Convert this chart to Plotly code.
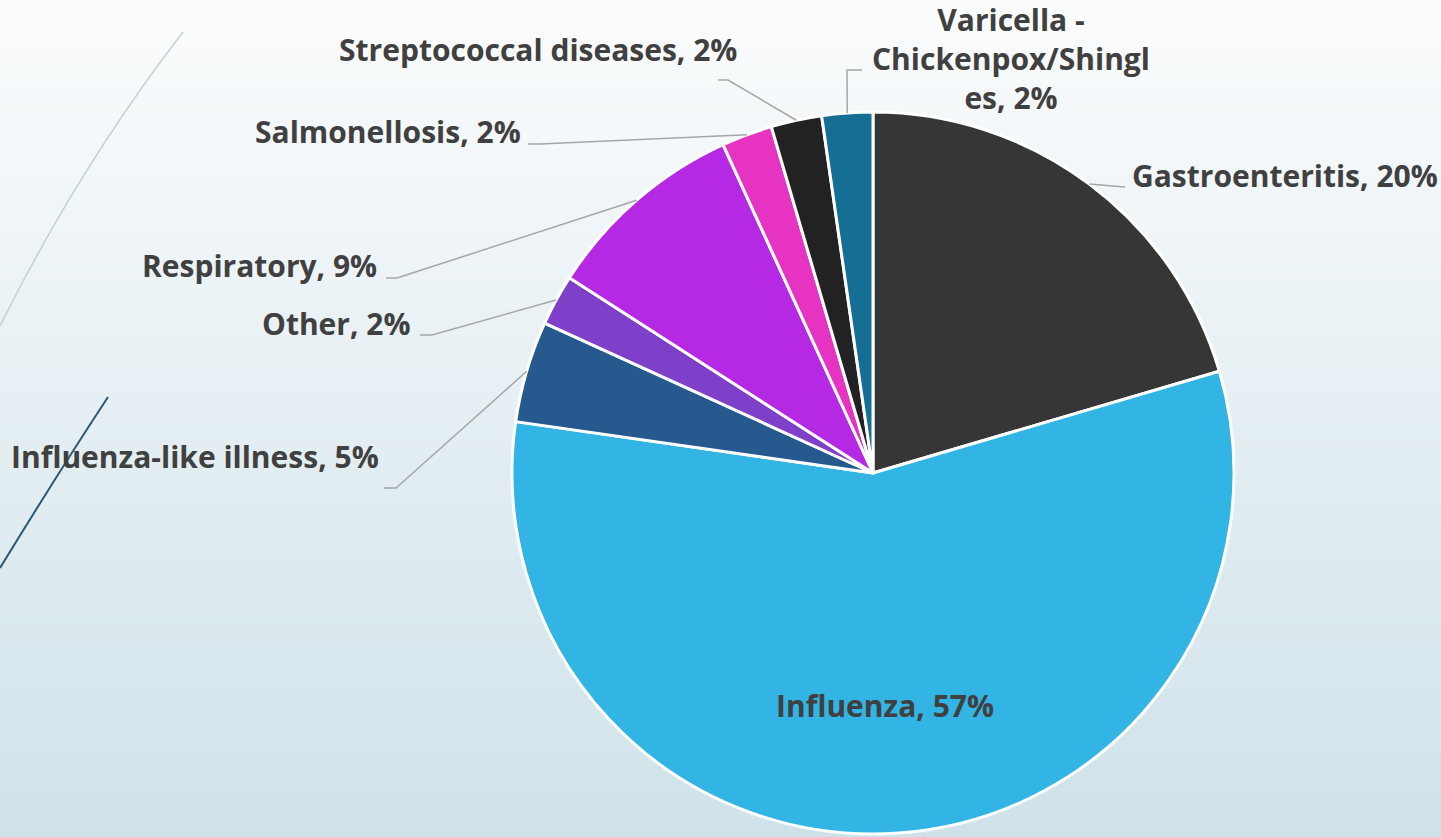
import math
import plotly.graph_objects as go

# ---------------- data ----------------
categories = [
    "Gastroenteritis",
    "Influenza",
    "Influenza-like illness",
    "Other",
    "Respiratory",
    "Salmonellosis",
    "Streptococcal diseases",
    "Varicella - Chickenpox/Shingles",
]
outbreaks = [18, 50, 4, 2, 8, 2, 2, 2]
colors = ["#363636", "#32B4E5", "#265A8E", "#7E3FC9",
          "#B629E4", "#E633C2", "#222222", "#156F94"]

# ---------------- layout helpers ----------------
W, H = 1441, 837
CX, CY, R = 873, 473, 361
FONT = dict(family="Open Sans, Lato, sans-serif", size=30, color="#404040", weight="bold")


def px(x):
    return x / W


def py(y):
    return 1 - y / H


# label anchor positions (pixels) and leader-line elbows/ends (pixels)
label_pos = {
    0: dict(x=1130, y=175, xanchor="left", leader=[(1125, 187)]),
    1: dict(x=885, y=705, xanchor="center", leader=None),
    2: dict(x=381, y=456, xanchor="right", leader=[(396, 488), (384, 488)]),
    3: dict(x=413, y=323, xanchor="right", leader=[(432, 335), (420, 335)]),
    4: dict(x=379, y=265, xanchor="right", leader=[(397, 278), (386, 278)]),
    5: dict(x=523, y=132, xanchor="right", leader=[(540, 144), (528, 144)]),
    6: dict(x=739, y=50, xanchor="right", leader=[(728, 80), (718, 80)]),
    7: dict(x=1011, y=59, xanchor="center", leader=[(847, 70), (862, 70)]),
}

total = sum(outbreaks)
texts = [f"{c}, {round(100 * v / total)}%" for c, v in zip(categories, outbreaks)]
texts[7] = texts[7].replace(" - ", " -<br>").replace("Shingl", "Shingl<br>")

fig = go.Figure()
fig.add_trace(go.Pie(
    labels=categories,
    values=outbreaks,
    sort=False,
    direction="clockwise",
    rotation=0,
    marker=dict(colors=colors, line=dict(color="white", width=3)),
    textinfo="none",
    hoverinfo="label+percent",
    showlegend=False,
    domain=dict(x=[px(CX - R), px(CX + R)], y=[py(CY + R), py(CY - R)]),
))

shapes = []
# background gradient
N = 90
top = (251, 252, 253)
bot = (207, 226, 233)
for i in range(N):
    t = (i + 0.5) / N
    c = tuple(round(top[k] + (bot[k] - top[k]) * t) for k in range(3))
    shapes.append(dict(type="rect", xref="paper", yref="paper",
                       x0=0, x1=1, y0=1 - (i + 1) / N - 0.002, y1=1 - i / N,
                       fillcolor=f"rgb{c}", line=dict(width=0), layer="below"))

# decorative theme lines
shapes.append(dict(type="path", xref="paper", yref="paper", layer="below",
                   path=f"M {px(183)},{py(32)} Q {px(79)},{py(167)} {px(0)},{py(326)}",
                   line=dict(color="#C5D2D8", width=1.6)))
shapes.append(dict(type="path", xref="paper", yref="paper", layer="below",
                   path=f"M {px(108)},{py(397)} Q {px(60)},{py(470)} {px(0)},{py(568)}",
                   line=dict(color="#2B5877", width=2)))

# leader lines from slice mid-angles
cum = 0.0
annotations = []
for i, v in enumerate(outbreaks):
    mid = (cum + v / 2) / total * 2 * math.pi
    cum += v
    lp = label_pos[i]
    if lp["leader"]:
        x0 = CX + R * math.sin(mid)
        y0 = CY - R * math.cos(mid)
        pts = [(x0, y0)] + lp["leader"]
        path = "M " + " L ".join(f"{px(a)},{py(b)}" for a, b in pts)
        shapes.append(dict(type="path", xref="paper", yref="paper", path=path,
                           line=dict(color="#A6A6A6", width=1.5)))
    annotations.append(dict(x=px(lp["x"]), y=py(lp["y"]), xref="paper", yref="paper",
                            text=texts[i], showarrow=False, xanchor=lp["xanchor"],
                            yanchor="middle", align="center", font=FONT))

fig.update_layout(
    width=W, height=H,
    margin=dict(l=0, r=0, t=0, b=0),
    paper_bgcolor="#FBFCFD",
    plot_bgcolor="rgba(0,0,0,0)",
    shapes=shapes,
    annotations=annotations,
)

fig.write_html("out.html", config={"displayModeBar": False},
               post_script="document.body.style.margin='0';document.body.style.overflow='hidden';")
